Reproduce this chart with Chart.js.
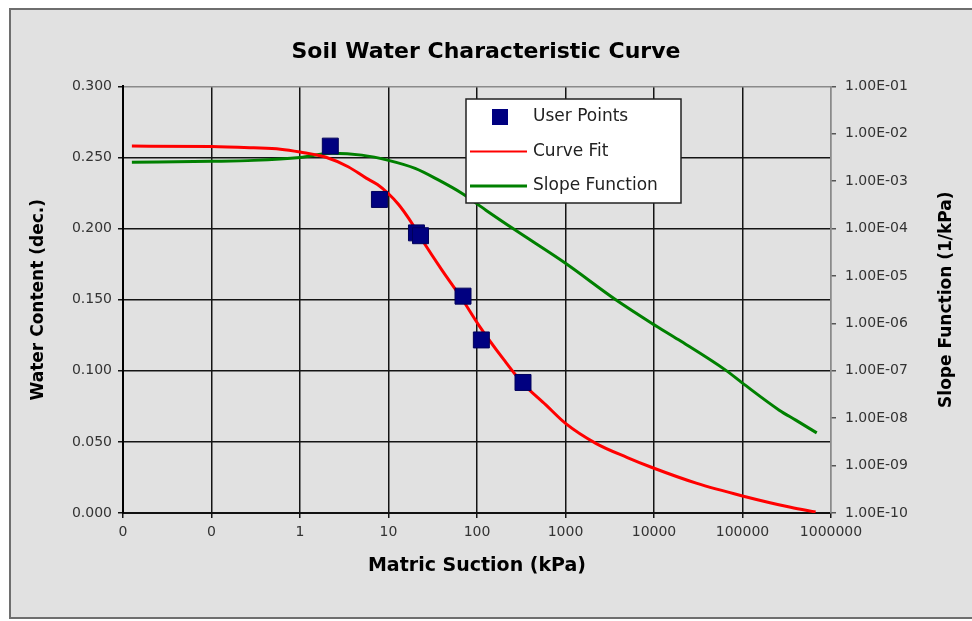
<!DOCTYPE html>
<html>
<head>
<meta charset="utf-8">
<script src="https://cdn.jsdelivr.net/npm/chart.js@4.4.3/dist/chart.umd.min.js"></script>
<style>
  html, body { margin: 0; padding: 0; background: #fff; }
  #swcc { display: block; }
</style>
</head>
<body>
<canvas id="swcc" width="972" height="621"></canvas>
<script>
// ─────────────────────────────────────────────────────────────────────────────
// Data
// ─────────────────────────────────────────────────────────────────────────────

// measured points: matric suction (kPa) / water content (dec.)
const userSuction = [2.2, 7.9, 20.7, 23.0, 69.5, 112, 331];
const userWater   = [0.258, 0.2205, 0.197, 0.195, 0.1525, 0.1217, 0.0918];

// fitted SWCC curve
const fitSuction = [0.0126, 0.1, 0.3, 0.6, 1, 2, 3.5, 5.6, 7.5, 10, 13, 17, 24, 40, 67, 105,
                    200, 320, 600, 1000, 2200, 5000, 9500, 30000, 100000, 350000, 670000];
const fitWater   = [0.258, 0.2578, 0.2568, 0.2558, 0.2538, 0.250, 0.2435, 0.2355, 0.231, 0.2245,
                    0.217, 0.207, 0.192, 0.171, 0.151, 0.132, 0.108, 0.092, 0.076, 0.063,
                    0.049, 0.039, 0.032, 0.021, 0.012, 0.004, 0.0007];

// slope function (1/kPa), right log axis
const slopeSuction = [0.0126, 0.1, 0.3, 1, 2.3, 5, 10, 20, 37, 68, 126, 276, 1000, 3700,
                      9500, 19000, 65000, 100000, 260000, 400000, 690000];
const slopeValue   = [2.51e-3, 2.63e-3, 2.75e-3, 3.16e-3, 3.89e-3, 3.55e-3, 2.75e-3, 1.86e-3,
                      1.05e-3, 5.5e-4, 2.45e-4, 9.1e-5, 1.86e-5, 3.16e-6, 1.0e-6, 4.5e-7,
                      1.02e-7, 5.5e-8, 1.48e-8, 9.1e-9, 4.9e-9];

// axis ticks
const suctionTicks = [0.01, 0.1, 1, 10, 100, 1000, 10000, 100000, 1000000];
const waterTicks   = [0, 0.05, 0.1, 0.15, 0.2, 0.25, 0.3];
const slopeTicks   = [1e-1, 1e-2, 1e-3, 1e-4, 1e-5, 1e-6, 1e-7, 1e-8, 1e-9, 1e-10];

// ─────────────────────────────────────────────────────────────────────────────
// Helpers
// ─────────────────────────────────────────────────────────────────────────────

const FONT = "'DejaVu Sans', sans-serif";
const toXY = (xs, ys) => xs.map((x, i) => ({ x, y: ys[i] }));

/** 1e-5 → "1.00E-05" (Excel style) */
function sci(v) {
  const e = Math.round(Math.log10(v));
  const m = v / Math.pow(10, e);
  return m.toFixed(2) + 'E' + (e < 0 ? '-' : '+') + String(Math.abs(e)).padStart(2, '0');
}

// grey sheet with a frame behind everything
const framePlugin = {
  id: 'frame',
  beforeDraw(chart) {
    const { ctx, width, height } = chart;
    ctx.save();
    ctx.fillStyle = '#fff';
    ctx.fillRect(0, 0, width, height);
    ctx.fillStyle = '#e1e1e1';
    ctx.fillRect(10, 9, width, 609);
    ctx.strokeStyle = '#6e6e6e';
    ctx.lineWidth = 2;
    ctx.strokeRect(10, 9, width, 609);
    ctx.restore();
  },
};

// boxed legend inside the plot, Excel style
const legendPlugin = {
  id: 'boxLegend',
  afterDatasetsDraw(chart) {
    const { ctx } = chart;
    const x = 466, y = 99, w = 215, h = 104;
    ctx.save();
    ctx.fillStyle = '#fff';
    ctx.fillRect(x, y, w, h);
    ctx.strokeStyle = '#222';
    ctx.lineWidth = 1.5;
    ctx.strokeRect(x, y, w, h);
    ctx.font = `17px ${FONT}`;
    ctx.textBaseline = 'middle';
    chart.data.datasets.forEach((ds, i) => {
      const cy = y + 18 + i * 34.5;
      if (ds.showLine === false) {
        ctx.fillStyle = ds.backgroundColor;
        ctx.fillRect(492, cy - 8, 16, 16);
      } else {
        ctx.strokeStyle = ds.borderColor;
        ctx.lineWidth = ds.legendLineWidth || ds.borderWidth;
        ctx.beginPath();
        ctx.moveTo(470, cy);
        ctx.lineTo(527, cy);
        ctx.stroke();
      }
      ctx.fillStyle = '#222';
      ctx.fillText(ds.label, 533, cy);
    });
    ctx.restore();
  },
};

// right axis title reads bottom-to-top, Chart.js would rotate it the other way
const rightTitlePlugin = {
  id: 'rightTitle',
  afterDraw(chart) {
    const { ctx, chartArea } = chart;
    ctx.save();
    ctx.translate(947, (chartArea.top + chartArea.bottom) / 2);
    ctx.rotate(-Math.PI / 2);
    ctx.font = `bold 17px ${FONT}`;
    ctx.fillStyle = '#000';
    ctx.textAlign = 'center';
    ctx.textBaseline = 'middle';
    ctx.fillText('Slope Function (1/kPa)', 0, 0);
    ctx.restore();
  },
};

// ─────────────────────────────────────────────────────────────────────────────
// Chart
// ─────────────────────────────────────────────────────────────────────────────

const tickFont  = { family: FONT, size: 14 };
const titleFont = { family: FONT, size: 17, weight: 'bold' };
const gridBlack = '#141414';
const gridGrey  = '#8a8a8a';

new Chart(document.getElementById('swcc'), {
  type: 'line',
  data: {
    datasets: [
      {
        label: 'User Points',
        data: toXY(userSuction, userWater),
        yAxisID: 'y',
        showLine: false,
        pointStyle: 'rect',
        pointRadius: 11.3,
        backgroundColor: '#000080',
        borderColor: '#00005a',
        pointBorderWidth: 1,
        order: 0,
      },
      {
        label: 'Curve Fit',
        data: toXY(fitSuction, fitWater),
        yAxisID: 'y',
        borderColor: '#ff0000',
        borderWidth: 3,
        legendLineWidth: 2,
        pointRadius: 0,
        cubicInterpolationMode: 'monotone',
        order: 1,
      },
      {
        label: 'Slope Function',
        data: toXY(slopeSuction, slopeValue),
        yAxisID: 'y1',
        borderColor: '#008000',
        borderWidth: 3,
        legendLineWidth: 3,
        pointRadius: 0,
        cubicInterpolationMode: 'monotone',
        order: 2,
      },
    ],
  },
  options: {
    responsive: false,
    animation: false,
    events: [],
    layout: { padding: 0 },
    plugins: {
      legend: { display: false },
      tooltip: { enabled: false },
      title: {
        display: true,
        text: 'Soil Water Characteristic Curve',
        color: '#000',
        font: { family: FONT, size: 22, weight: 'bold' },
        padding: { top: 39, bottom: 21 },
      },
    },
    scales: {
      x: {
        type: 'logarithmic',
        position: 'bottom',
        min: 0.01,
        max: 1000000,
        afterBuildTicks: s => { s.ticks = suctionTicks.map(v => ({ value: v })); },
        afterFit: s => { s.height = 108; },
        ticks: {
          callback: v => String(Math.round(v)),
          autoSkip: false,
          maxRotation: 0,
          font: tickFont,
          color: '#333',
          padding: 6,
        },
        grid: {
          color: c => (c.tick && c.tick.value === 1000000 ? gridGrey : gridBlack),
          lineWidth: 1.5,
          tickLength: 5,
          tickColor: gridBlack,
        },
        border: { color: '#111', width: 2 },
        title: {
          display: true,
          text: 'Matric Suction (kPa)',
          color: '#000',
          font: { family: FONT, size: 19, weight: 'bold' },
          padding: { bottom: 44 },
        },
      },
      y: {
        type: 'linear',
        position: 'left',
        min: 0,
        max: 0.3,
        afterBuildTicks: s => { s.ticks = waterTicks.map(v => ({ value: v })); },
        afterFit: s => { s.width = 123; },
        ticks: {
          callback: v => Number(v).toFixed(3),
          font: tickFont,
          color: '#333',
          padding: 6,
        },
        grid: {
          color: c => (c.tick && Math.abs(c.tick.value - 0.3) < 1e-9 ? gridGrey : gridBlack),
          lineWidth: 1.5,
          tickLength: 5,
          tickColor: gridBlack,
        },
        border: { color: '#000', width: 2 },
        title: {
          display: true,
          text: 'Water Content (dec.)',
          color: '#000',
          font: titleFont,
          padding: { top: 28 },
        },
      },
      y1: {
        type: 'logarithmic',
        position: 'right',
        min: 1e-10,
        max: 1e-1,
        afterBuildTicks: s => { s.ticks = slopeTicks.map(v => ({ value: v })); },
        afterFit: s => { s.width = 141; },
        ticks: {
          callback: v => sci(v),
          font: tickFont,
          color: '#333',
          padding: 9,
        },
        grid: {
          drawOnChartArea: false,
          tickLength: 5,
          color: '#555',
          lineWidth: 1.5,
        },
        border: { color: gridGrey, width: 1.5 },
        title: { display: false },
      },
    },
  },
  plugins: [framePlugin, legendPlugin, rightTitlePlugin],
});
</script>
</body>
</html>
